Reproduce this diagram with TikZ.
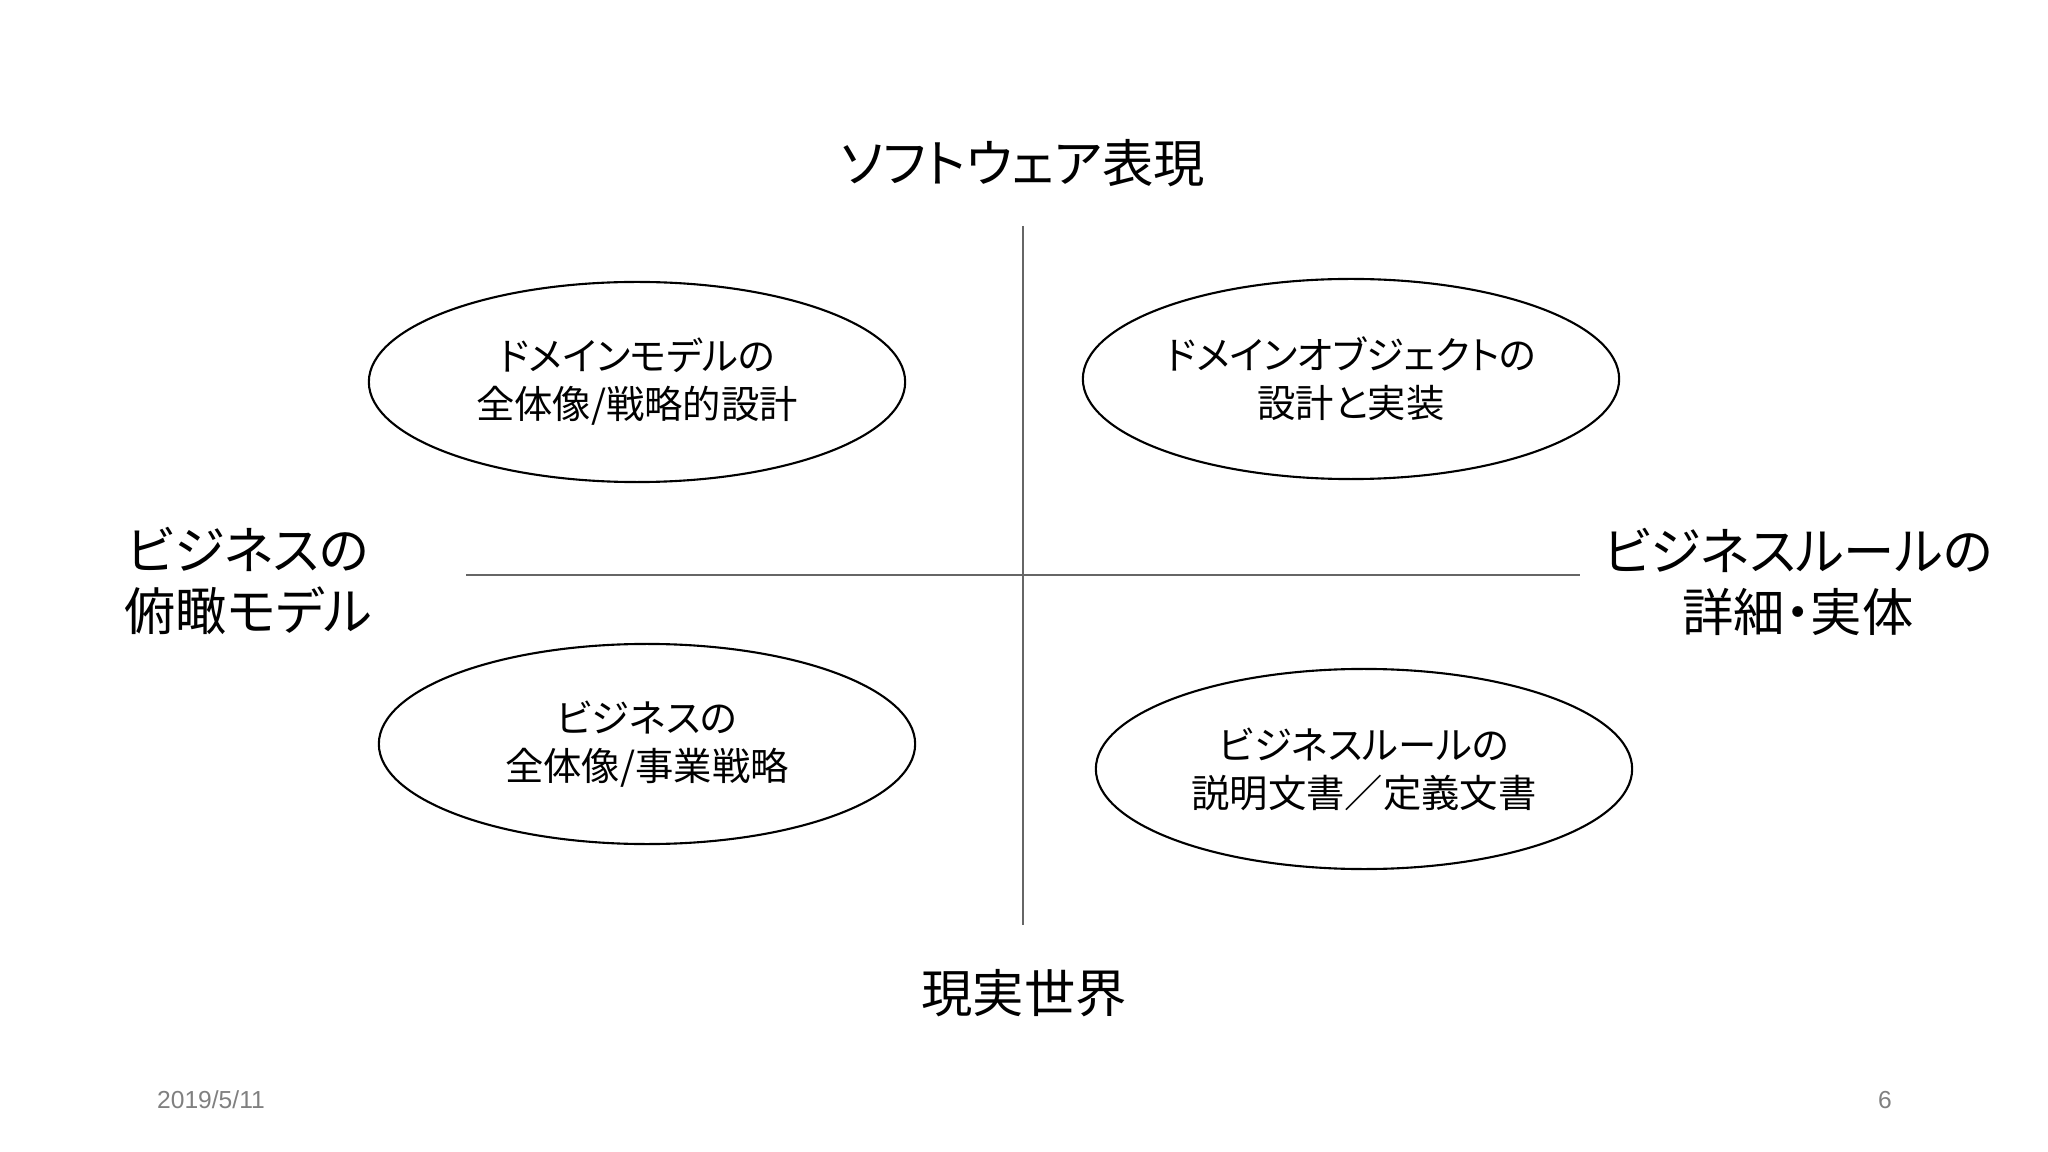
\documentclass[tikz,border=0pt]{standalone}
\usepackage{fontspec}
\setmainfont{Noto Sans CJK JP}[RawFeature=+palt]
\newfontfamily\datefont{Liberation Sans}
\usetikzlibrary{shapes.geometric}

\begin{document}
\begin{tikzpicture}[x=0.01cm, y=-0.01cm,
        axis/.style={draw=black!60, line width=0.45pt},
        area/.style={draw, ellipse, line width=0.6pt, minimum width=5.36cm, minimum height=2cm,
            inner sep=0pt, align=center, font=\fontsize{10.9}{13.7}\selectfont},
        label/.style={align=center, font=\fontsize{14.6}{17.4}\selectfont},
        foot/.style={text=black!50, font=\datefont\fontsize{7}{8}\selectfont}]
        \useasboundingbox[fill=white] (0, 0) rectangle (2048, 1152);

        % axes
        \coordinate (top) at (1023, 226);
        \coordinate (bottom) at (1023, 925);
        \coordinate (left) at (466, 575);
        \coordinate (right) at (1580, 575);
        \draw[axis] (top) -- (bottom);
        \draw[axis] (left) -- (right);

        % axis labels
        \node[label] (software) at (1023, 163) {ソフトウェア表現};
        \node[label] (real) at (1024, 993) {現実世界};
        \node[label] (overview) at (248, 581) {ビジネスの\\俯瞰モデル};
        \node[label] (detail) at (1798, 582) {ビジネスルールの\\詳細・実体};

        % quadrants
        \node[area] (model) at (637, 382) {ドメインモデルの\\全体像/戦略的設計};
        \node[area] (object) at (1351, 379) {ドメインオブジェクトの\\設計と実装};
        \node[area] (business) at (647, 744) {ビジネスの\\全体像/事業戦略};
        \node[area] (rules) at (1364, 769) {ビジネスルールの\\説明文書／定義文書};

        % footer
        \node[foot] (date) at (211, 1100) {2019/5/11};
        \node[foot] (page) at (1885, 1100) {6};
    \end{tikzpicture}
\end{document}
